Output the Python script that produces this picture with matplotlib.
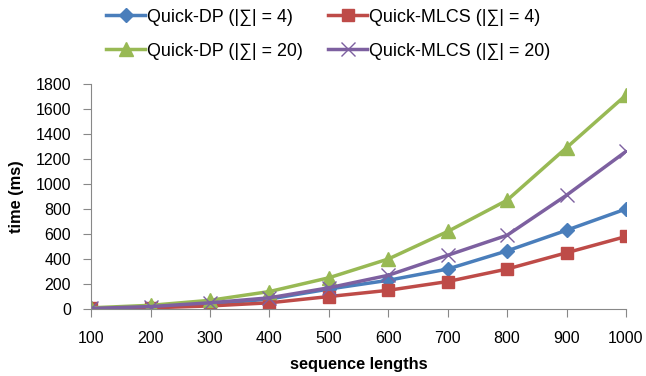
import matplotlib
matplotlib.use("Agg")
import matplotlib.pyplot as plt

plt.rcParams['font.family'] = ['Liberation Sans', 'DejaVu Sans']

lengths = [100, 200, 300, 400, 500, 600, 700, 800, 900, 1000]
dp_4 = [5, 15, 40, 80, 160, 230, 320, 465, 630, 800]
mlcs_4 = [5, 10, 25, 50, 100, 150, 220, 320, 450, 580]
dp_20 = [10, 30, 70, 140, 250, 400, 620, 870, 1290, 1710]
mlcs_20 = [5, 20, 50, 90, 170, 270, 430, 590, 910, 1260]

fig = plt.figure(figsize=(6.46, 3.76), dpi=100)
ax = fig.add_axes([0.141, 0.178, 0.828, 0.599])

h1, = ax.plot(lengths, dp_4, color='#4A7EBB', lw=2.5, marker='D', ms=7, label='Quick-DP (|∑| = 4)')
h2, = ax.plot(lengths, mlcs_4, color='#BE4B48', lw=2.5, marker='s', ms=9, label='Quick-MLCS (|∑| = 4)')
h3, = ax.plot(lengths, dp_20, color='#98B954', lw=2.5, marker='^', ms=10, label='Quick-DP (|∑| = 20)')
h4, = ax.plot(lengths, mlcs_20, color='#7D60A0', lw=2.5, marker='x', ms=10, mew=1, label='Quick-MLCS (|∑| = 20)')

ax.set_xlim(100, 1000)
ax.set_ylim(0, 1800)
ax.set_xticks(lengths)
ax.set_yticks(range(0, 1801, 200))
ax.tick_params(labelsize=11.5, color='#888888', length=6, direction='out')
ax.tick_params(axis='x', pad=10)
ax.tick_params(axis='y', pad=8.5)
for s in ['top', 'right']:
    ax.spines[s].set_visible(False)
for s in ['left', 'bottom']:
    ax.spines[s].set_color('#888888')
ax.set_xlabel('sequence lengths', fontsize=11.8, fontweight='bold', labelpad=8)
ax.set_ylabel('time (ms)', fontsize=11.8, fontweight='bold', labelpad=8)

fig.legend([h1, h3, h2, h4], [h.get_label() for h in [h1, h3, h2, h4]],
           ncol=2, loc='upper center', bbox_to_anchor=(0.508, 1.02),
           frameon=False, fontsize=12.9, handlelength=2.2, columnspacing=1.4,
           handletextpad=0.1, labelspacing=0.95)

fig.savefig('out.png', dpi=100)
